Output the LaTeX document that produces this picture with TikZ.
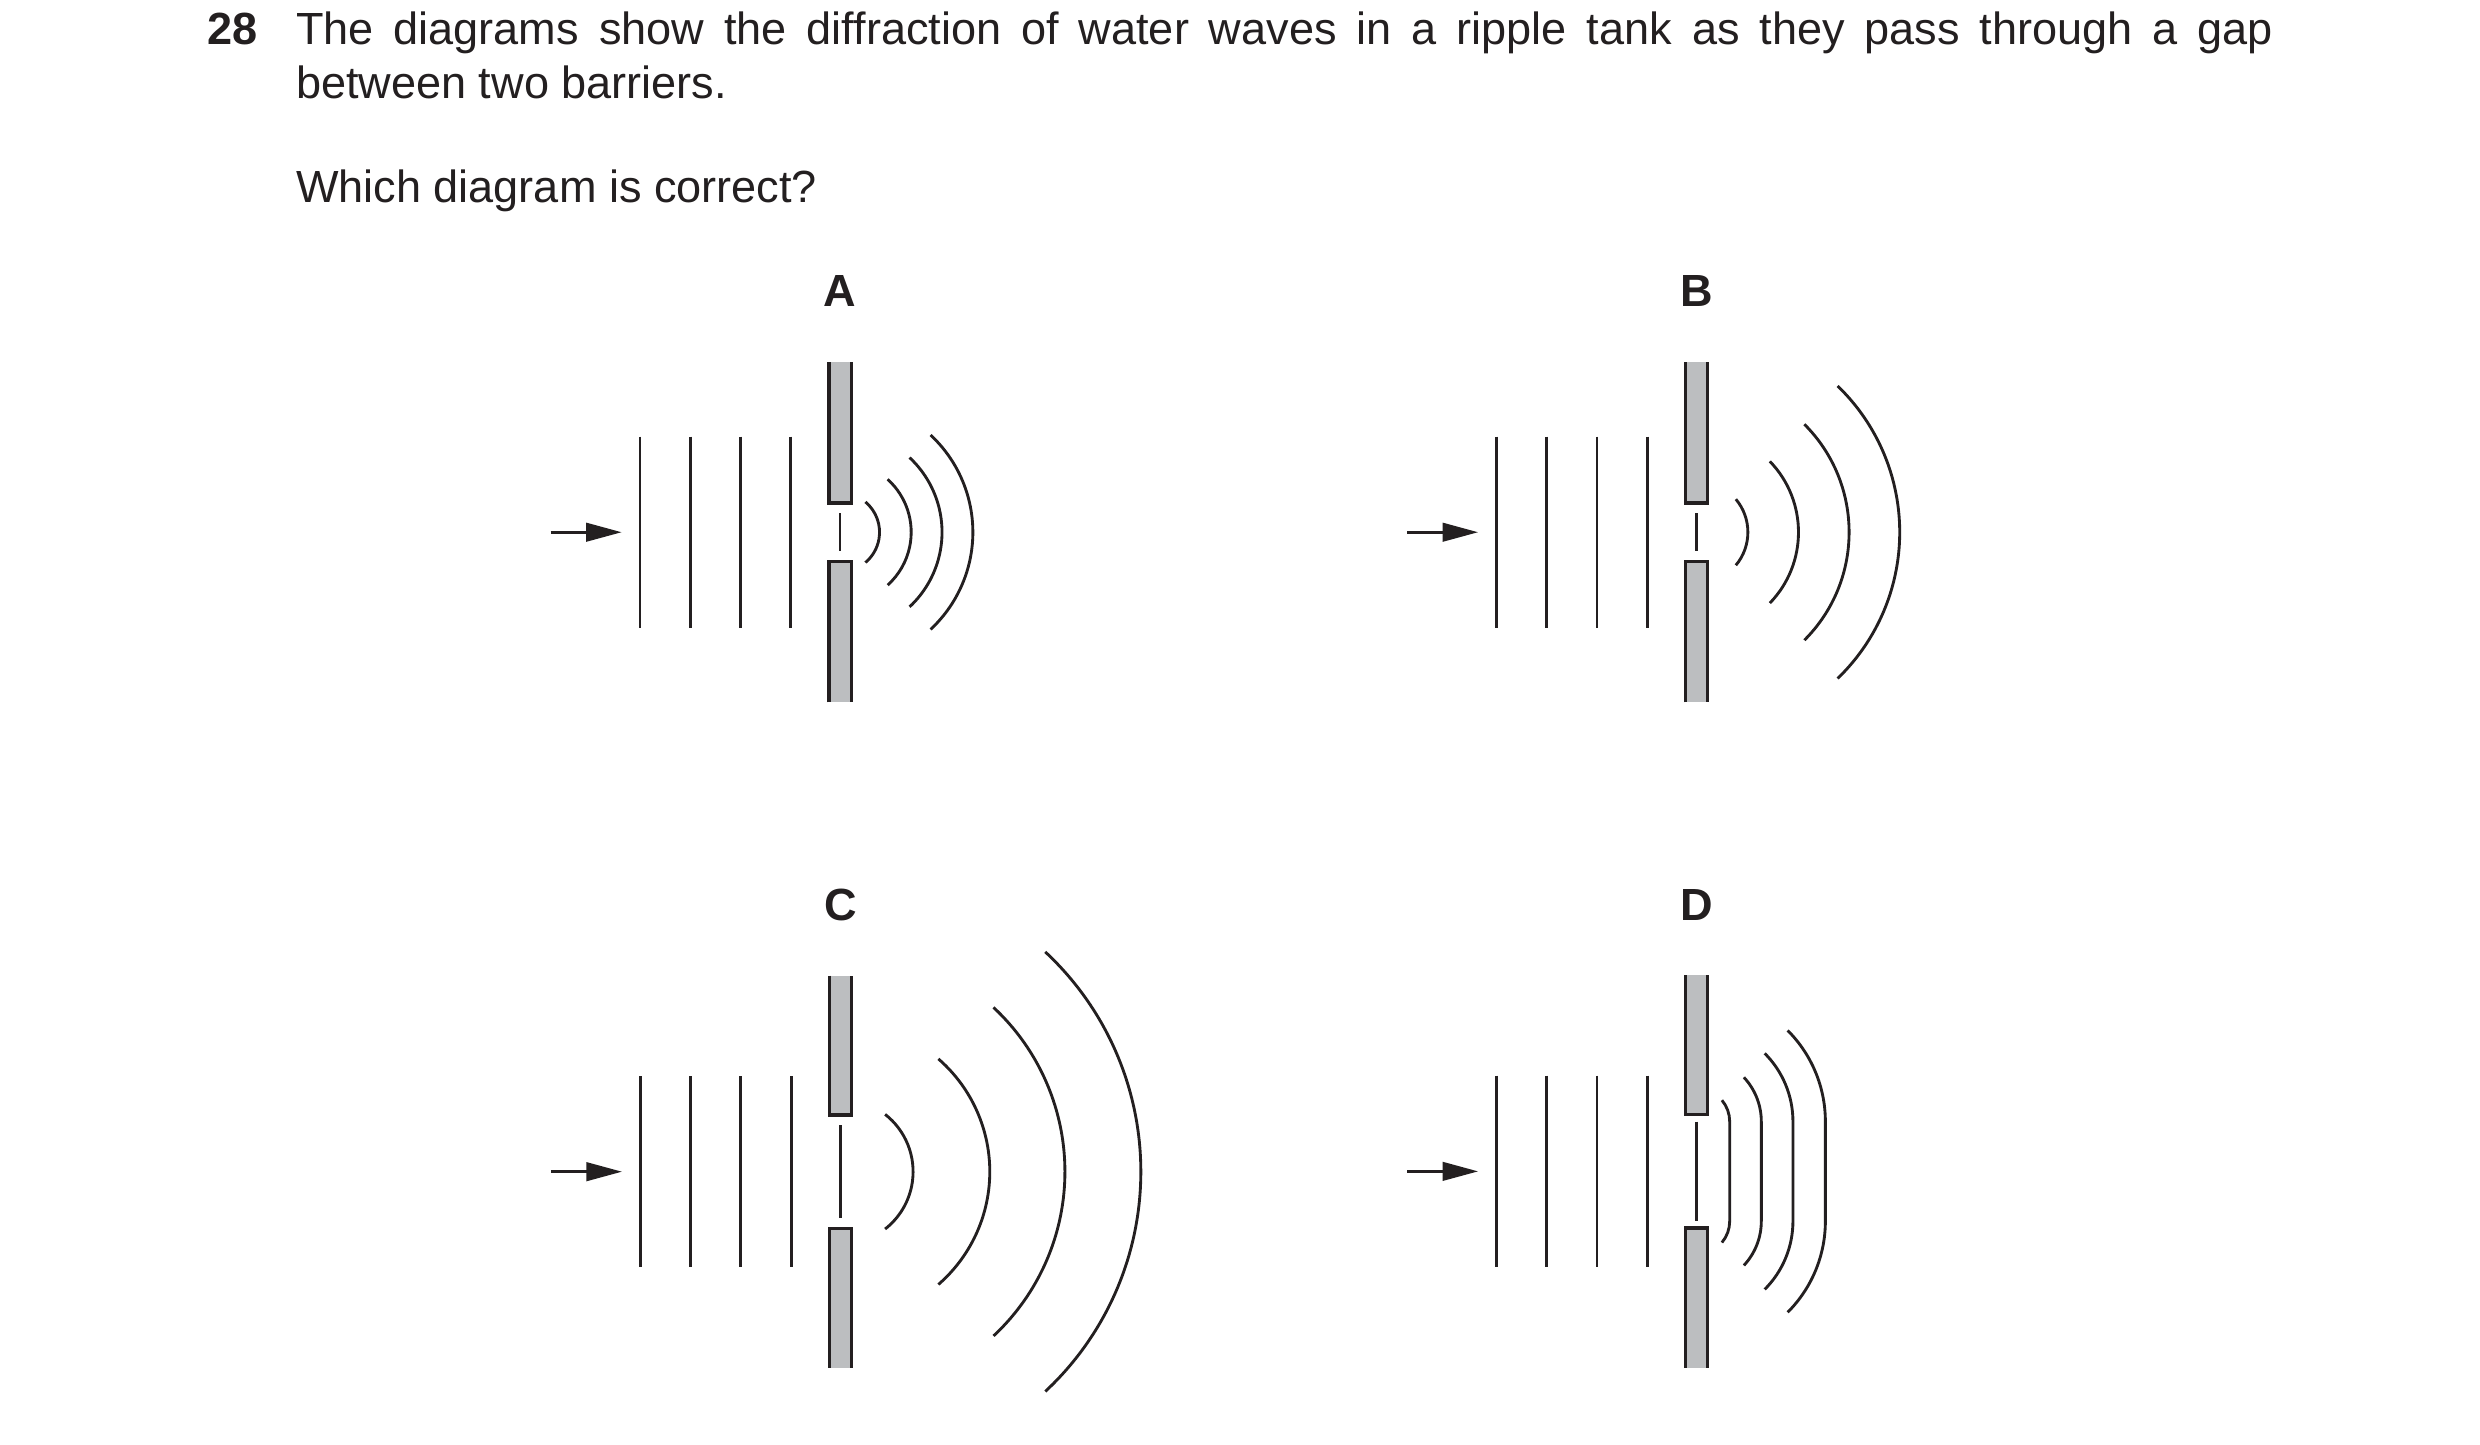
\documentclass[tikz,border=0pt]{standalone}
\usepackage{fontspec}
\setmainfont{Liberation Sans}
\usetikzlibrary{arrows.meta,calc}

\definecolor{barriergrey}{RGB}{188,190,192}
\definecolor{inkblack}{RGB}{35,31,32}

\tikzset{
  txt/.style={inner sep=0pt, font=\fontsize{28.5}{34}\selectfont, text=inkblack},
  lbl/.style={inner sep=0pt, font=\fontsize{28.5}{34}\selectfont\bfseries, text=inkblack},
  wave/.style={draw=inkblack, line width=1.8pt},
  barrier/.style={draw=inkblack, line width=2pt},
  feed/.style={draw=inkblack, line width=2pt, -{Triangle[length=22.5pt, width=11.6pt]}},
}

% one barrier with gap, dash, plane waves and arrow
\newcommand{\tankpart}[4]{% centre, half height, half gap, half dash
  \fill[barriergrey] ($(#1)+(-7,-#2)$) rectangle ($(#1)+(7,-#3)$);
  \fill[barriergrey] ($(#1)+(-7,#3)$) rectangle ($(#1)+(7,#2)$);
  \draw[barrier] ($(#1)+(-7,-#2)$) -- ($(#1)+(-7,-#3)$) -- ($(#1)+(7,-#3)$) -- ($(#1)+(7,-#2)$);
  \draw[barrier] ($(#1)+(-7,#2)$) -- ($(#1)+(-7,#3)$) -- ($(#1)+(7,#3)$) -- ($(#1)+(7,#2)$);
  \draw[wave] ($(#1)+(0,-#4)$) -- ($(#1)+(0,#4)$);
  \foreach \k in {0,...,3}
    \draw[wave] ($(#1)+(-126.5+31.8*\k,-60.5)$) -- ($(#1)+(-126.5+31.8*\k,60.5)$);
  \coordinate (tail) at ($(#1)+(-183,0)$);
  \coordinate (head) at ($(#1)+(-138,0)$);
  \draw[feed] (tail) -- (head);
}

\begin{document}
\begin{tikzpicture}[x=1pt,y=-1pt]
  \useasboundingbox (0,0) rectangle (1568,913.6);

  % question
  \node[lbl, anchor=base west] (num) at (131,28.4) {28};
  \node[txt, anchor=base west] (line1) at (187,28.4) {\makebox[1250pt][s]{The diagrams show the diffraction of water waves in a ripple tank as they pass through a gap}};
  \node[txt, anchor=base west] (line2) at (187,62) {between two barriers.};
  \node[txt, anchor=base west] (ask) at (187,128) {Which diagram is correct?};

  % panel centres (middle of the gap)
  \coordinate (gapA) at (531.1,336.5);
  \coordinate (gapB) at (1072.6,336.5);
  \coordinate (gapC) at (531.3,740.8);
  \coordinate (gapD) at (1072.6,740.6);

  \node[lbl, anchor=base] (labA) at (531.1,194) {A};
  \node[lbl, anchor=base] (labB) at (1072.6,194) {B};
  \node[lbl, anchor=base] (labC) at (531.3,582) {C};
  \node[lbl, anchor=base] (labD) at (1072.6,582) {D};

  \tankpart{gapA}{107.5}{18.5}{12}
  \tankpart{gapB}{107.5}{18.5}{12}
  \tankpart{gapC}{124}{35.8}{29.5}
  \tankpart{gapD}{124}{35.8}{31.5}

  % A
  \foreach \r/\a in {25/50, 45/48, 64.5/47, 84/47}
    \draw[wave] (gapA) ++(-\a:\r) arc[start angle=-\a, end angle=\a, radius=\r];
  % B
  \foreach \r/\a in {32.5/40, 64.5/44, 96.5/45, 128.5/46}
    \draw[wave] (gapB) ++(-\a:\r) arc[start angle=-\a, end angle=\a, radius=\r];
  % C
  \foreach \r/\a in {46/52, 94.5/49, 142/47, 190/47}
    \draw[wave] (gapC) ++(-\a:\r) arc[start angle=-\a, end angle=\a, radius=\r];
  % D
  \foreach \r/\a in {21/40, 41/43, 61/45, 81.5/45}
    \draw[wave] ($(gapD)+(0,-31.5)$) ++(-\a:\r) arc[start angle=-\a, end angle=0, radius=\r]
      -- ++(0,63) arc[start angle=0, end angle=\a, radius=\r];
\end{tikzpicture}
\end{document}
